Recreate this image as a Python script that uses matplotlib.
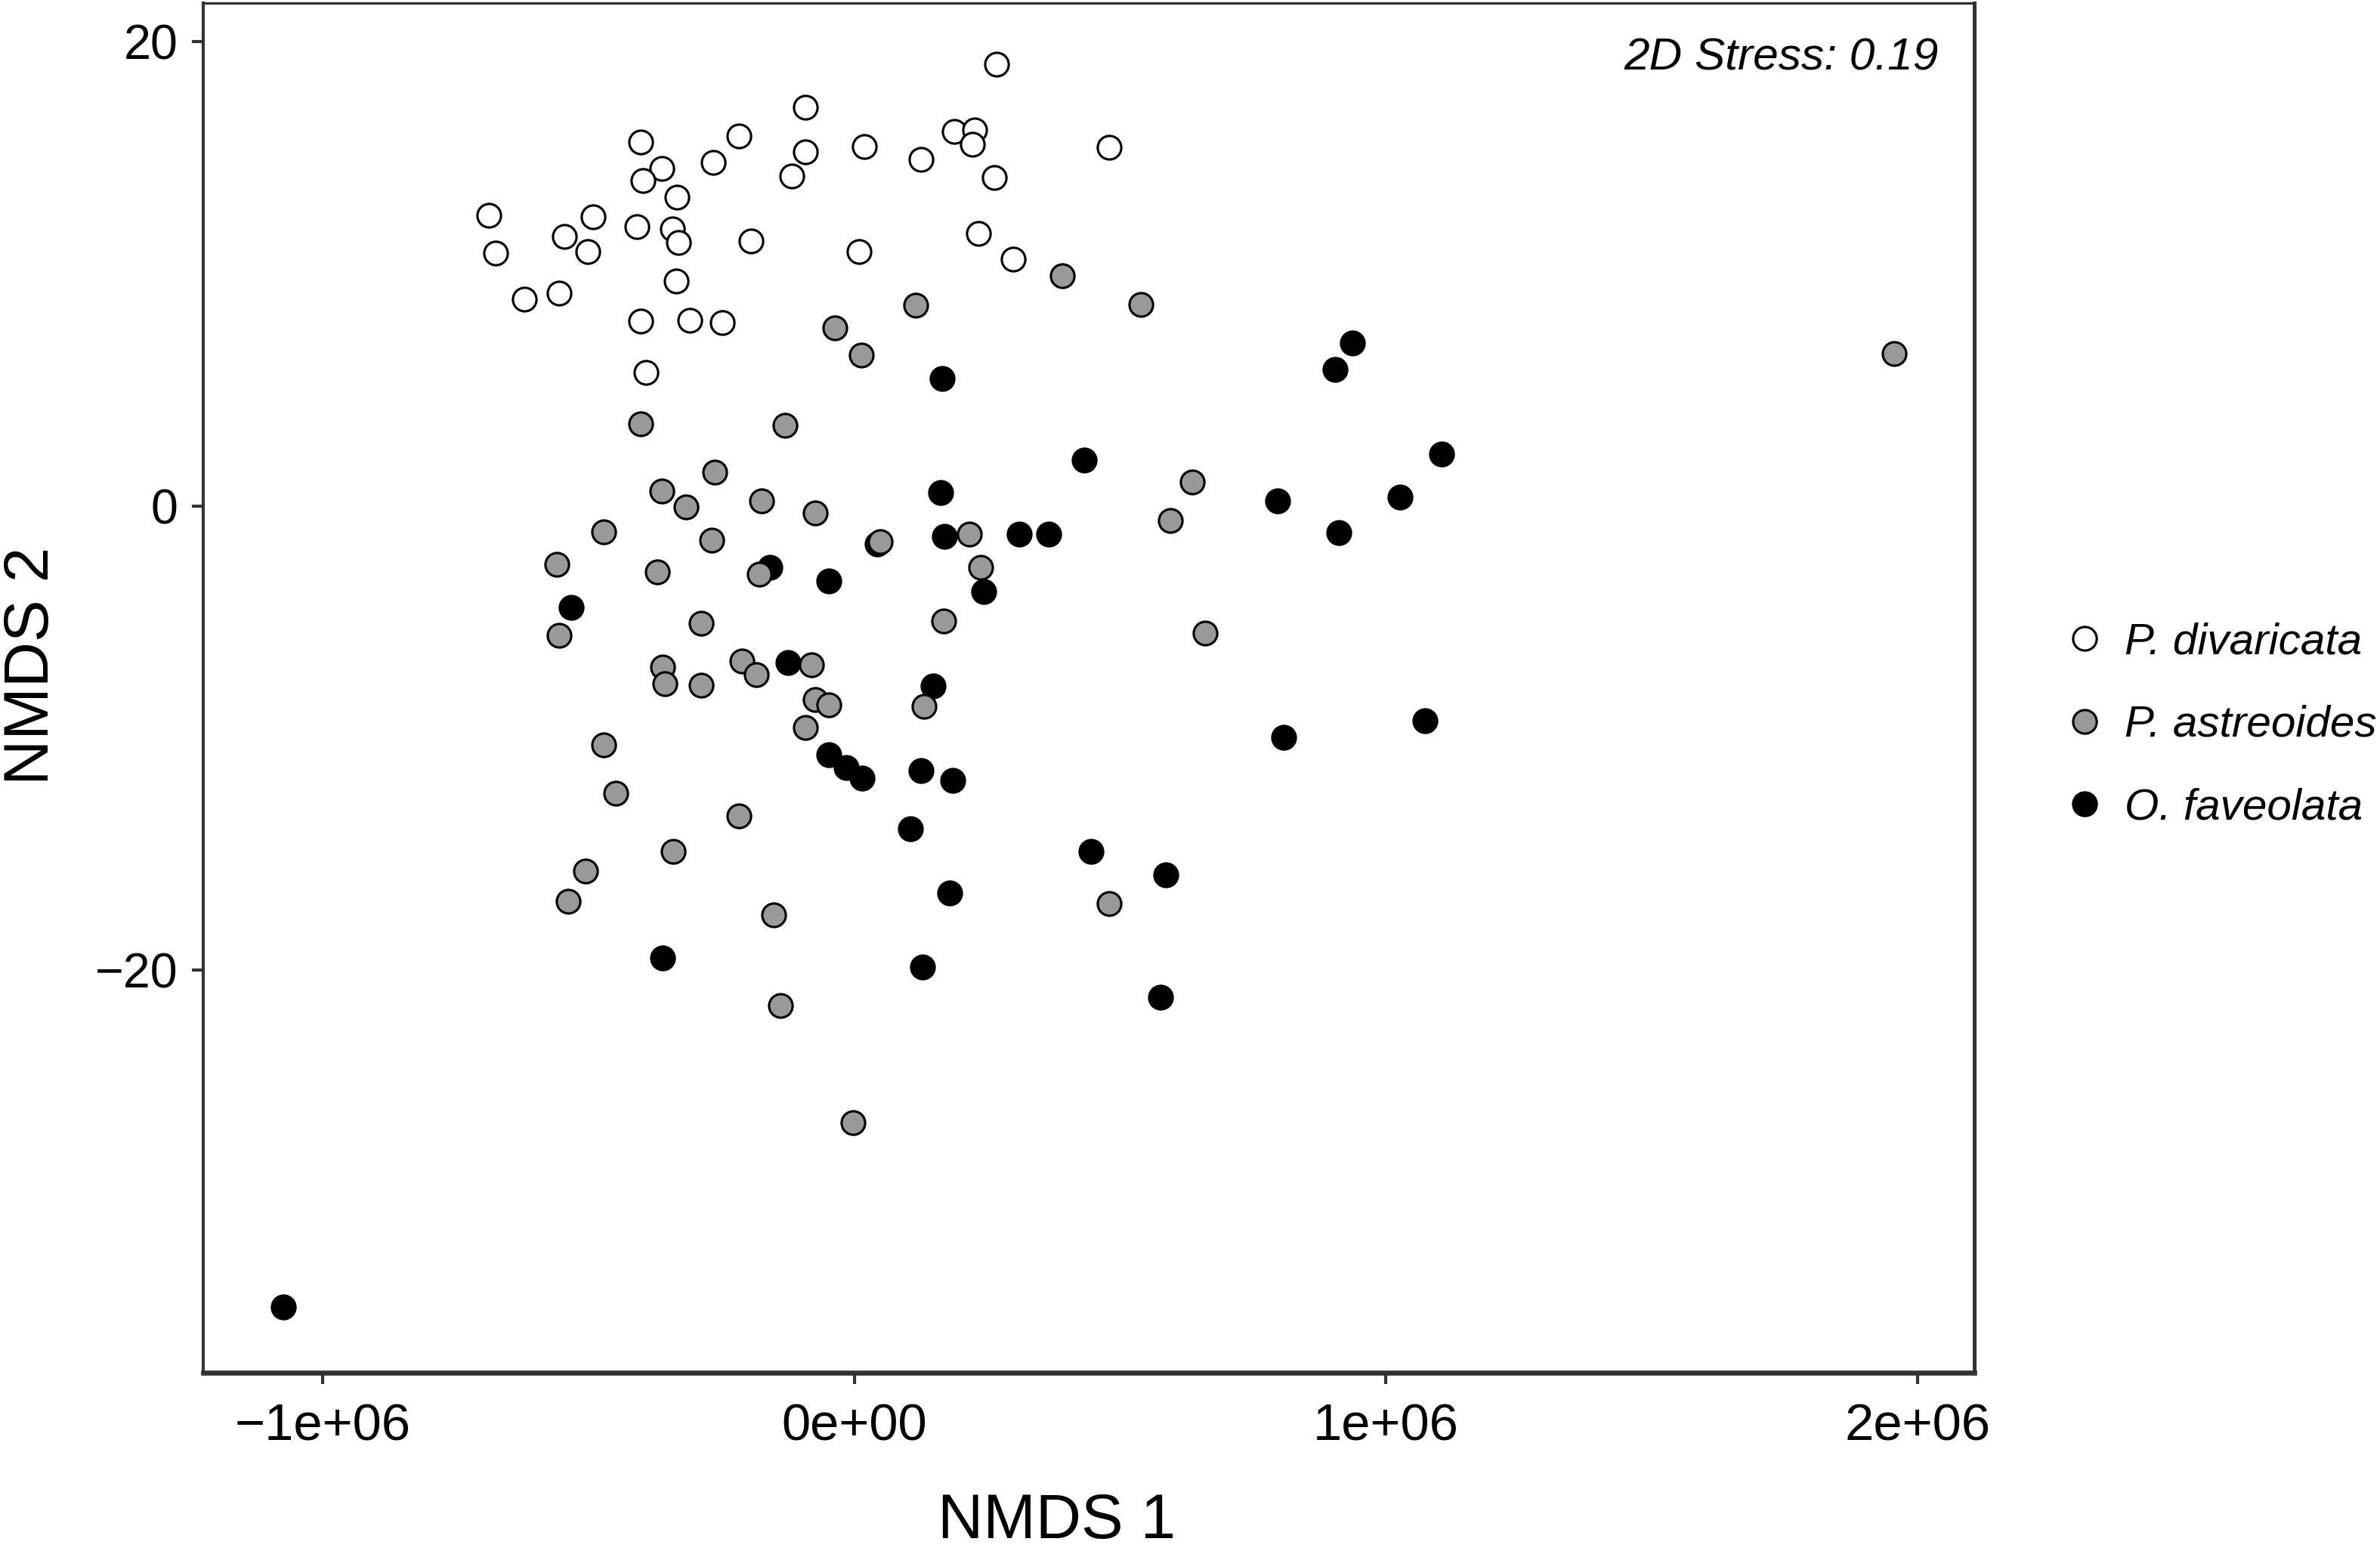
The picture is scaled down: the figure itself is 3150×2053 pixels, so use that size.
import matplotlib
matplotlib.use("Agg")
import matplotlib.pyplot as plt
from matplotlib.lines import Line2D
from matplotlib.ticker import FuncFormatter

plt.rcParams['font.family'] = ['Liberation Sans', 'DejaVu Sans']

species = ['P. divaricata', 'P. astreoides', 'O. faveolata']
fills = ['white', '#999999', 'black']

# NMDS scores (x in raw units, y in raw units)
div_x = [0.268e6, -0.092e6, 0.188e6, 0.226e6, 0.222e6, -0.402e6, -0.217e6, 0.019e6,
         0.480e6, -0.092e6, -0.362e6, -0.265e6, 0.126e6, -0.117e6, -0.397e6, 0.263e6,
         -0.334e6, -0.688e6, -0.491e6, -0.409e6, -0.342e6, -0.331e6, -0.545e6, -0.194e6,
         0.234e6, -0.675e6, -0.502e6, 0.009e6, 0.299e6, -0.335e6, -0.621e6, -0.556e6,
         -0.402e6, -0.309e6, -0.248e6, -0.392e6]
div_y = [19.04, 17.19, 16.13, 16.22, 15.57, 15.67, 15.93, 15.49,
         15.45, 15.25, 14.54, 14.80, 14.93, 14.21, 14.02, 14.15,
         13.30, 12.52, 12.45, 12.03, 11.93, 11.35, 11.61, 11.41,
         11.74, 10.89, 10.96, 10.96, 10.63, 9.69, 8.90, 9.16,
         7.98, 7.99, 7.90, 5.75]

ast_x = [0.392e6, 0.115e6, 0.539e6, -0.037e6, 0.013e6, 1.956e6, -0.402e6, -0.131e6,
         -0.262e6, -0.362e6, -0.316e6, -0.175e6, -0.074e6, -0.471e6, -0.268e6, 0.049e6,
         0.216e6, 0.238e6, -0.559e6, -0.371e6, -0.179e6, -0.555e6, -0.288e6, 0.168e6,
         -0.360e6, -0.356e6, -0.288e6, -0.211e6, -0.184e6, -0.081e6, -0.074e6, -0.048e6,
         0.131e6, -0.092e6, -0.471e6, -0.449e6, -0.217e6, -0.341e6, -0.505e6, -0.539e6,
         0.480e6, -0.151e6, -0.139e6, -0.002e6, 0.636e6, 0.595e6, 0.660e6]
ast_y = [9.92, 8.64, 8.68, 7.67, 6.50, 6.56, 3.55, 3.47,
         1.45, 0.64, -0.05, 0.21, -0.29, -1.12, -1.48, -1.54,
         -1.20, -2.65, -2.52, -2.85, -2.94, -5.58, -5.06, -4.96,
         -6.95, -7.66, -7.73, -6.69, -7.27, -6.85, -8.34, -8.56,
         -8.64, -9.55, -10.31, -12.38, -13.36, -14.88, -15.72, -17.04,
         -17.15, -17.62, -21.53, -26.59, 1.02, -0.64, -5.48]

fav_x = [0.166e6, 0.433e6, 0.163e6, 0.169e6, 0.311e6, 0.366e6, 0.043e6, -0.159e6,
         -0.048e6, -0.533e6, 0.243e6, -0.125e6, 0.148e6, -0.048e6, -0.015e6, 0.015e6,
         0.125e6, 0.185e6, 0.106e6, 0.446e6, 0.586e6, 0.180e6, -0.361e6, 0.129e6,
         0.576e6, 0.937e6, 0.905e6, 1.105e6, 0.796e6, 1.027e6, 0.911e6, 1.074e6,
         0.808e6, -1.074e6]
fav_y = [5.49, 1.99, 0.56, -1.31, -1.20, -1.20, -1.64, -2.65,
         -3.22, -4.37, -3.69, -6.75, -7.77, -10.72, -11.29, -11.74,
         -11.42, -11.84, -13.91, -14.89, -15.89, -16.67, -19.49, -19.86,
         -21.16, 7.01, 5.89, 2.25, 0.21, 0.38, -1.15, -9.26,
         -9.96, -34.52]

stress_text = '2D Stress: 0.19'
x_ticks = [-1e6, 0, 1e6, 2e6]
y_ticks = [-20, 0, 20]

fig = plt.figure(figsize=(10.5, 2053 / 300), dpi=300)
ax = fig.add_axes([0.0854, 0.1150, 0.7441, 0.8830])

series = [(div_x, div_y), (ast_x, ast_y), (fav_x, fav_y)]
# draw black first so grey points sit on top, as in the original
for i in [2, 1, 0]:
    xs, ys = series[i]
    ax.scatter(xs, ys, s=56, c=fills[i], edgecolors='black', linewidths=0.75, zorder=3)

ax.set_xlim(-1.2249e6, 2.107e6)
ax.set_ylim(-37.35, 21.67)
ax.set_xticks(x_ticks)
ax.set_yticks(y_ticks)
ax.xaxis.set_major_formatter(FuncFormatter(lambda v, p: ('%.0e' % v).replace('-', '\u2212')))
ax.yaxis.set_major_formatter(FuncFormatter(lambda v, p: ('%d' % v).replace('-', '\u2212')))
ax.tick_params(axis='x', labelsize=16.5, length=3.5, width=1.0, color='#333333', pad=6)
ax.tick_params(axis='y', labelsize=15.5, length=3.5, width=1.0, color='#333333', pad=4.5)

for side, lw in [('top', 0.8), ('right', 1.2), ('left', 1.0), ('bottom', 1.6)]:
    ax.spines[side].set_linewidth(lw)
    ax.spines[side].set_color('#333333')

ax.set_xlabel('NMDS 1', fontsize=20)
ax.xaxis.set_label_coords(0.482, -0.121)
ax.xaxis.label.set_va('baseline')
ax.set_ylabel('NMDS 2', fontsize=20)
ax.yaxis.set_label_coords(-0.097, 0.516)
ax.yaxis.label.set_va('center')

ax.text(0.980, 0.951, stress_text, transform=ax.transAxes, ha='right', va='baseline',
        fontsize=14.5, style='italic')

handles = [Line2D([], [], linestyle='none', marker='o', markersize=7.5,
                  markerfacecolor=fills[i], markeredgecolor='black', markeredgewidth=0.75)
           for i in range(3)]
fig.legend(handles, species, loc='center left', bbox_to_anchor=(0.8667, 0.5324),
           frameon=False, prop={'size': 14, 'style': 'italic'}, handlelength=1.0,
           handletextpad=0.4, labelspacing=0.95, borderpad=0, borderaxespad=0)

fig.savefig('out.png', dpi=300)
